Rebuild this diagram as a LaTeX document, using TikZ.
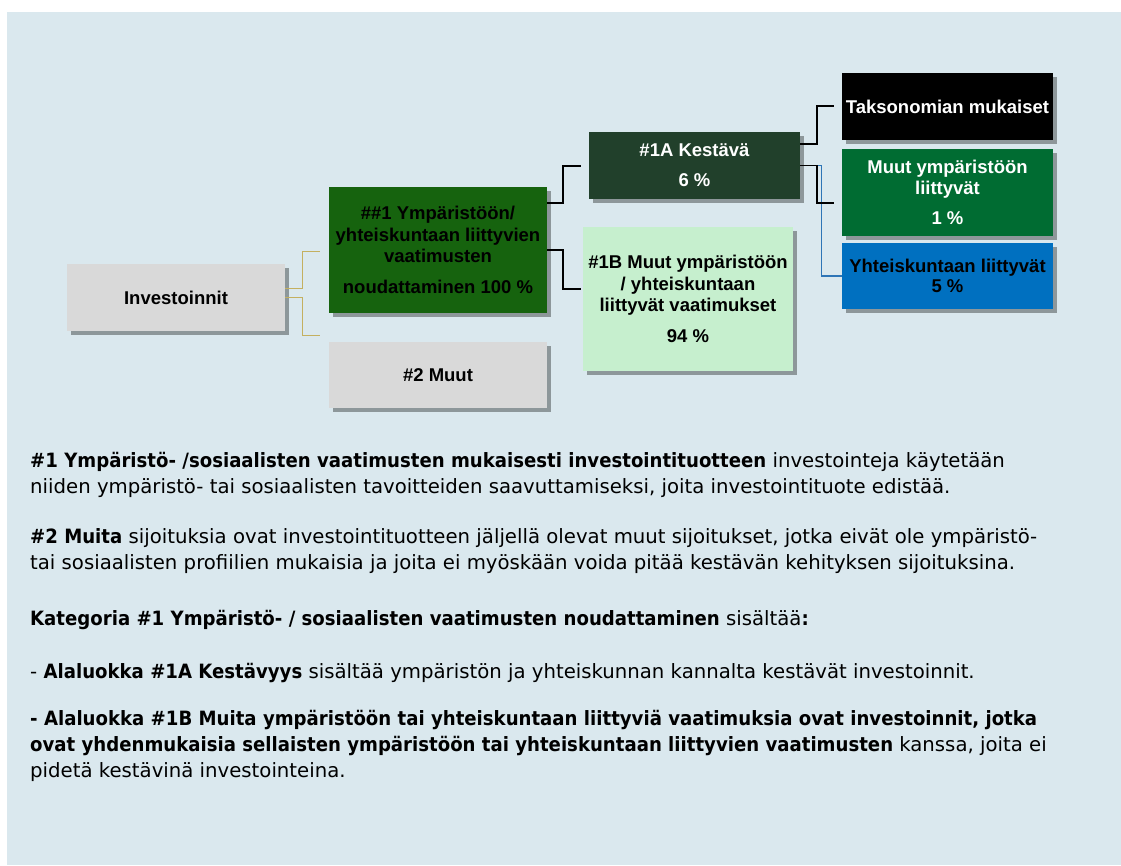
\documentclass[tikz,border=0pt]{standalone}
\usepackage{fontspec}
\setmainfont{Liberation Sans}
\newfontfamily\bodyfont{DejaVu Sans}[BoldFeatures={FakeStretch=0.92}]
\usetikzlibrary{shadows}

\definecolor{panelbg}{RGB}{218,232,238}
\definecolor{boxgrey}{RGB}{217,217,217}
\definecolor{reqgreen}{RGB}{22,99,14}
\definecolor{sustgreen}{RGB}{33,64,43}
\definecolor{othergreen}{RGB}{198,239,206}
\definecolor{envgreen}{RGB}{0,108,50}
\definecolor{socblue}{RGB}{0,112,192}
\definecolor{linegold}{RGB}{196,176,96}
\definecolor{lineblue}{RGB}{46,117,182}

\begin{document}
\begin{tikzpicture}
    [x=1pt, y=-1pt,
    box/.style={rectangle, inner sep=0pt, align=center,
        font=\bfseries\fontsize{18.5}{21.5}\selectfont,
        drop shadow={shadow xshift=4pt, shadow yshift=-4pt, opacity=0.35, fill=black}},
    elbow/.style={line width=1.6pt, black},
    goldline/.style={line width=1pt, linegold},
    blueline/.style={line width=1.3pt, lineblue},
    para/.style={anchor=base west, align=left, inner sep=0pt,
        font=\bodyfont\fontsize{19.7}{26}\selectfont}
    ]
    \useasboundingbox (0,0) rectangle (1121,865);
    \fill[panelbg] (7,12) rectangle (1121,865);

    % tree of boxes
    \node[box, fill=boxgrey, minimum width=218pt, minimum height=67pt] (inv) at (176,297.5) {Investoinnit};
    \node[box, fill=reqgreen, minimum width=218pt, minimum height=126pt] (n1) at (438,250)
        {\#\#1 Ympäristöön/\\yhteiskuntaan liittyvien\\vaatimusten\\[9pt]noudattaminen 100 \%};
    \node[box, fill=boxgrey, minimum width=218pt, minimum height=66pt] (n2) at (438,375) {\#2 Muut};
    \node[box, fill=sustgreen, text=white, minimum width=211pt, minimum height=67pt] (n1a) at (694.5,165.5)
        {\#1A Kestävä\\[8.5pt]6 \%};
    \node[box, fill=othergreen, minimum width=210pt, minimum height=144pt] (n1b) at (688,299)
        {\#1B Muut ympäristöön\\/ yhteiskuntaan\\liittyvät vaatimukset\\[9.5pt]94 \%};
    \node[box, fill=black, text=white, minimum width=211pt, minimum height=67pt] (tax) at (947.5,106.5)
        {Taksonomian mukaiset};
    \node[box, fill=envgreen, text=white, minimum width=211pt, minimum height=87pt] (env) at (947.5,192.5)
        {Muut ympäristöön\\liittyvät\\[8.5pt]1 \%};
    \node[box, fill=socblue, minimum width=211pt, minimum height=66pt] (soc) at (947.5,276)
        {Yhteiskuntaan liittyvät\\[-1.5pt]5 \%};

    % free ends of the elbows
    \coordinate (g1) at (320,251);
    \coordinate (g2) at (320,335);
    \coordinate (k1) at (581,166);
    \coordinate (k2) at (581,289);
    \coordinate (k3) at (834,106);
    \coordinate (k4) at (834,203);

    \draw[goldline] ([yshift=9.5pt]inv.east) -- ++(17,0) |- (g1);
    \draw[goldline] (inv.east) -- ++(17,0) |- (g2);
    \draw[elbow] ([yshift=47pt]n1.east) -- ++(16,0) |- (k1);
    \draw[elbow] (n1.east) -- ++(16,0) |- (k2);
    \draw[blueline] (n1a.east) -- ++(21,0) |- (soc.west);
    \draw[elbow] ([yshift=21.5pt]n1a.east) -- ++(17,0) |- (k3);
    \draw[elbow] (n1a.east) -- ++(17,0) |- (k4);

    % explanations (placed at the baseline of their last line)
    \node[para] (p1) at (30,493)
        {\textbf{\#1 Ympäristö- /sosiaalisten vaatimusten mukaisesti investointituotteen} investointeja käytetään\\
        niiden ympäristö- tai sosiaalisten tavoitteiden saavuttamiseksi, joita investointituote edistää.};
    \node[para] (p2) at (30,569.5)
        {\textbf{\#2 Muita} sijoituksia ovat investointituotteen jäljellä olevat muut sijoitukset, jotka eivät ole ympäristö-\\
        tai sosiaalisten profiilien mukaisia ja joita ei myöskään voida pitää kestävän kehityksen sijoituksina.};
    \node[para] (p3) at (30,625)
        {\textbf{Kategoria \#1 Ympäristö- / sosiaalisten vaatimusten noudattaminen} sisältää\textbf{:}};
    \node[para] (p4) at (30,678)
        {- \textbf{Alaluokka \#1A Kestävyys} sisältää ympäristön ja yhteiskunnan kannalta kestävät investoinnit.};
    \node[para] (p5) at (30,777)
        {\textbf{- Alaluokka \#1B Muita ympäristöön tai yhteiskuntaan liittyviä vaatimuksia ovat investoinnit, jotka}\\
        \textbf{ovat yhdenmukaisia sellaisten ympäristöön tai yhteiskuntaan liittyvien vaatimusten} kanssa, joita ei\\
        pidetä kestävinä investointeina.};
\end{tikzpicture}
\end{document}
